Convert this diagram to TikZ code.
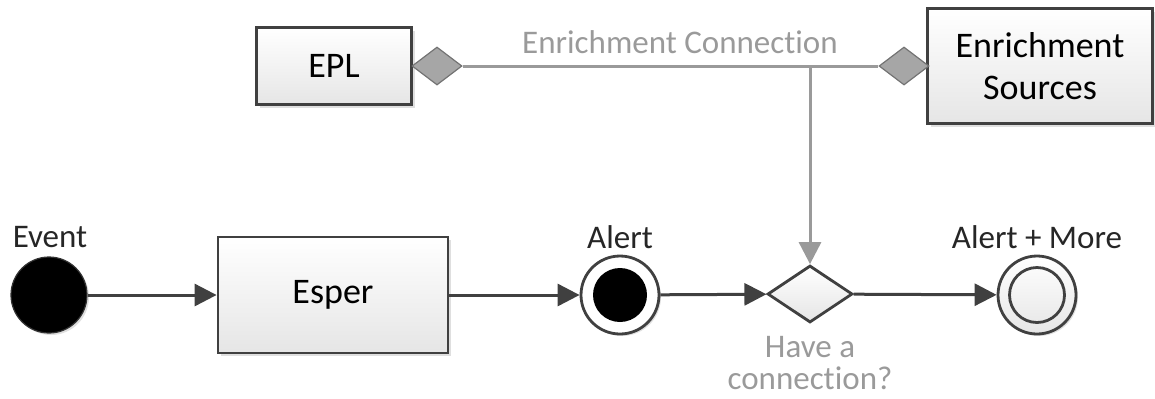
\documentclass[tikz,border=0pt]{standalone}
\usepackage{fontspec}
\setmainfont{Carlito}[Ligatures=NoCommon]
\usetikzlibrary{shapes.geometric,arrows.meta,shadows}

\definecolor{linedark}{HTML}{404040}
\definecolor{linegray}{HTML}{9A9A9A}
\definecolor{textgray}{HTML}{9A9A9A}

\tikzset{
  boxfill/.style={top color=white,bottom color=black!10},
  procbox/.style={draw=linedark,line width=1.4pt,boxfill,
    drop shadow={opacity=0.25,shadow xshift=1.5pt,shadow yshift=-1.5pt},
    font=\fontsize{18}{21}\selectfont,align=center,inner sep=0pt},
  joint/.style={diamond,draw=black!55,fill=black!35,line width=0.6pt,
    inner sep=0pt,minimum width=25pt,minimum height=19pt},
  flow/.style={draw=linedark,line width=1.5pt,-{Triangle[length=11pt,width=11pt]}},
  enrich/.style={draw=linegray,line width=1.5pt},
  caption/.style={font=\fontsize{16.5}{19}\selectfont,text=black!85,inner sep=0pt},
  graycap/.style={font=\fontsize{16.5}{16}\selectfont,text=textgray,align=center,inner sep=0pt},
}

\begin{document}
\begin{tikzpicture}[x=0.5pt,y=-0.5pt]

        \useasboundingbox (0,0) rectangle (1155,398);

        % ------------------------------------------------ enrichment row
        \node[procbox,minimum width=77.5pt,minimum height=38.5pt] (epl) at (334,66) {EPL};
        \node[procbox,minimum width=112.5pt,minimum height=57.5pt] (sources) at (1040,66) {Enrichment\\Sources};
        \node[joint] (epljoint) at (437,66) {};
        \node[joint] (srcjoint) at (904,66) {};

        \draw[enrich] (epljoint.east) -- (srcjoint.west);
        \node[graycap] (enrichlbl) at (680,42) {Enrichment Connection};
        \coordinate (tap) at (810,66);

        % ------------------------------------------------ event flow
        \node[circle,fill=black,draw=black!80,line width=0.6pt,minimum size=38pt,inner sep=0pt,
              drop shadow={opacity=0.25,shadow xshift=1pt,shadow yshift=-1pt}] (event) at (49,295) {};
        \node[caption] (eventlbl) at (50,237) {Event};

        \node[procbox,minimum width=115pt,minimum height=58pt] (esper) at (333,295) {Esper};

        \node[circle,draw=linedark,line width=1.4pt,fill=white,minimum size=39pt,inner sep=0pt,
              drop shadow={opacity=0.25,shadow xshift=1pt,shadow yshift=-1pt}] (alert) at (620,295) {};
        \node[circle,fill=black,minimum size=27pt,inner sep=0pt] (alertdot) at (alert.center) {};
        \node[caption] (alertlbl) at (620,237) {Alert};

        \node[diamond,draw=linedark,line width=1.4pt,boxfill,inner sep=0pt,
              minimum width=42.5pt,minimum height=28.5pt] (check) at (810,294) {};
        \node[graycap] (checklbl) at (810,363) {Have a\\connection?};

        \node[circle,draw=linedark,line width=1.4pt,boxfill,minimum size=39pt,inner sep=0pt,
              drop shadow={opacity=0.25,shadow xshift=1pt,shadow yshift=-1pt}] (more) at (1037,295) {};
        \node[circle,draw=linedark,line width=1.4pt,minimum size=27.5pt,inner sep=0pt] (moreinner) at (more.center) {};
        \node[caption] (morelbl) at (1037,237) {Alert + More};

        % ------------------------------------------------ connectors
        \draw[flow] (event) -- (esper);
        \draw[flow] (esper) -- (alert);
        \draw[flow] (alert) -- (check);
        \draw[flow] (check) -- (more);
        \draw[enrich,-{Triangle[length=11pt,width=11pt]}] (tap) -- (check.north);

\end{tikzpicture}
\end{document}
